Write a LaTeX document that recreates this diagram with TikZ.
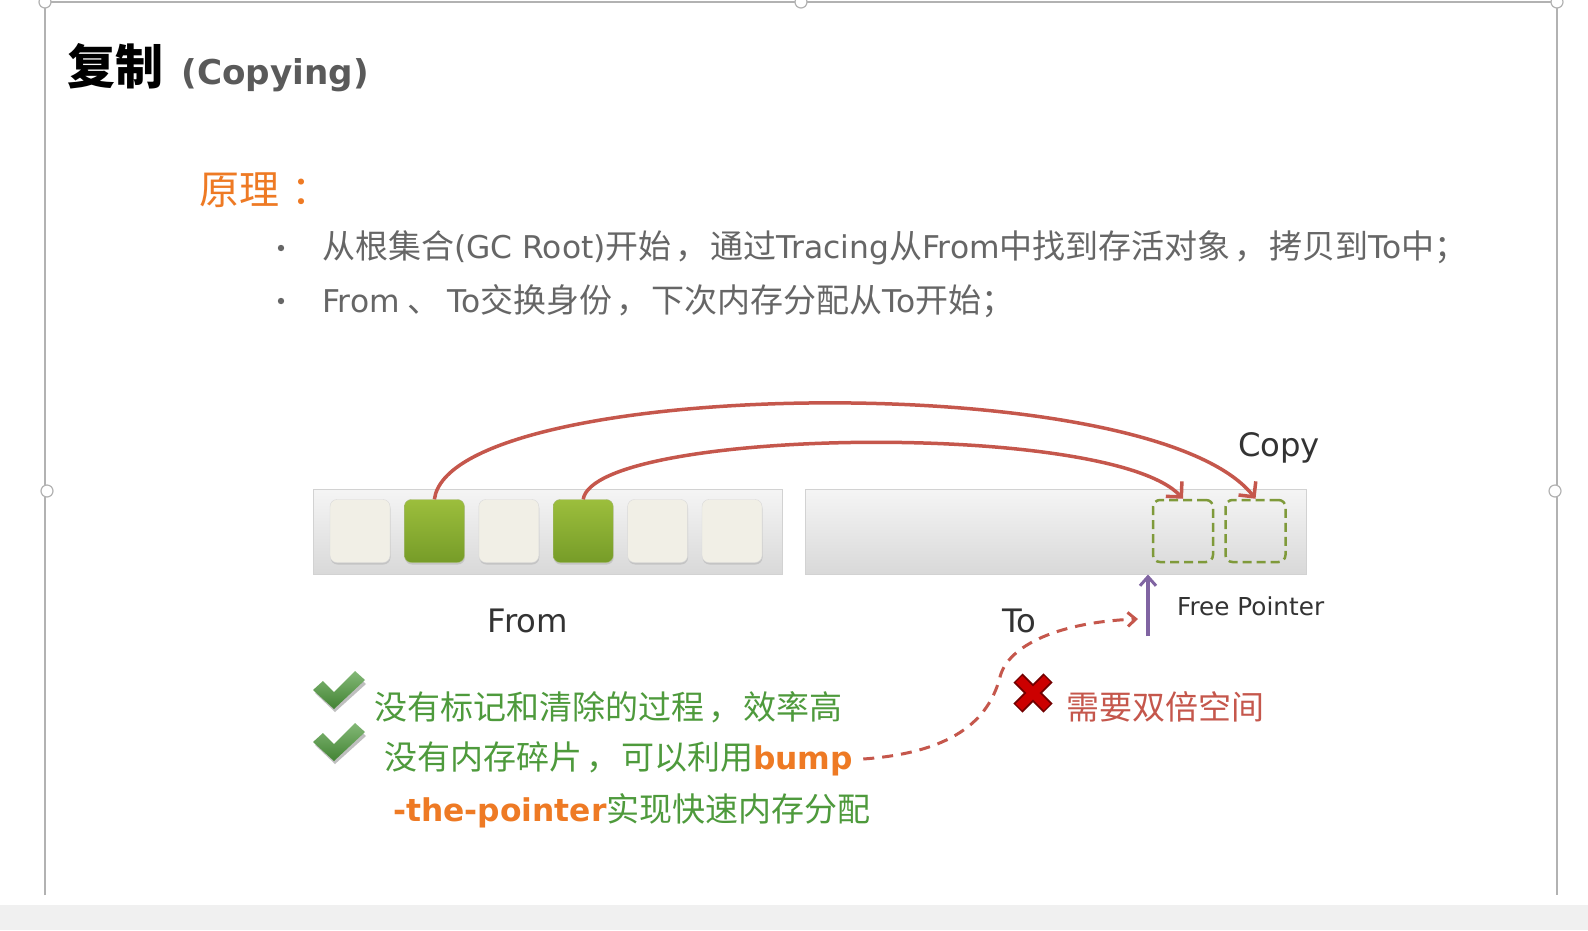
\documentclass[tikz,border=0pt]{standalone}
\usepackage{fontspec}
\setmainfont{Noto Sans CJK SC}
\newfontfamily\latinfont[Scale=0.95]{DejaVu Sans}
\usepackage{tikz}
\usetikzlibrary{positioning,arrows.meta,shadows}
\definecolor{textgray}{HTML}{666666}
\definecolor{titlegray}{HTML}{5A5A5A}
\definecolor{okgreen}{HTML}{4E9A3C}
\definecolor{hiorange}{HTML}{EE7A24}
\definecolor{gcred}{HTML}{C5574C}
\definecolor{fpurple}{HTML}{8064A2}
\definecolor{olive}{HTML}{7F9A3A}
\definecolor{cream}{HTML}{F1EFE6}
\newcommand{\lt}[1]{{\latinfont #1}}
\newcommand{\hl}[1]{{\latinfont\bfseries\color{hiorange}#1}}
\newcommand{\cm}{\hspace{4pt}，\hspace{2pt}}
\tikzset{
  bar/.style={draw=gray!35, line width=1pt, top color=gray!8, bottom color=gray!30, minimum height=85pt, inner sep=0pt},
  from cell/.style={draw=gray!30, fill=cream, rounded corners=7pt, minimum width=60pt, minimum height=63pt, inner sep=0pt,
    drop shadow={opacity=0.25, shadow xshift=0.5pt, shadow yshift=-2pt}},
  live cell/.style={from cell, draw=olive!70, top color={rgb,255:red,156;green,190;blue,60}, bottom color={rgb,255:red,118;green,156;blue,40}},
  copy cell/.style={draw=olive, dashed, dash pattern=on 9pt off 5pt, line width=2.5pt, rounded corners=7pt, minimum width=60pt, minimum height=62pt, inner sep=0pt},
  copy arrow/.style={draw=gcred, line width=3.5pt, -{Straight Barb[length=11pt,width=22pt,line width=3.5pt]}},
  bullet text/.style={anchor=west, inner sep=0pt, text=textgray, font=\fontsize{33}{38}\selectfont},
  good text/.style={anchor=west, inner sep=0pt, text=okgreen, font=\fontsize{33}{38}\selectfont},
  label text/.style={inner sep=0pt, text=black!80, font=\latinfont\fontsize{34}{38}\selectfont},
  tick/.pic={
    \fill[black!25] (-24,1) -- (-14,-8) -- (-4,3) -- (17,-18) -- (27,-8) -- (-4,20) -- cycle;
    \shade[top color=okgreen!70!white, bottom color=okgreen!85!black] (-26,-2) -- (-16,-11) -- (-5,0) -- (16,-21) -- (26,-12) -- (-5,17) -- cycle;
  },
  cross/.pic={
    \draw[line width=13pt, red!45!black] (-15,-15) -- (15,15) (-15,15) -- (15,-15);
    \draw[line width=9pt, red!80!black] (-14,-14) -- (14,14) (-14,14) -- (14,-14);
  },
}

\begin{document}
\begin{tikzpicture}[x=1pt, y=-1pt]
    \useasboundingbox (0,0) rectangle (1588,930);
    % Slide frame
    \fill[white] (0,0) rectangle (1588,905);
    \fill[gray!12] (0,905) rectangle (1588,930);
    \draw[gray!60, line width=1.5pt] (45,895) -- (45,2) -- (1557,2) -- (1557,895);
    \foreach \p in {(45,2),(801,2),(1557,2),(47,491),(1555,491)}
        \draw[gray!60, line width=1.2pt, fill=white] \p circle (6);

    % Titles
    \node[anchor=west, inner sep=0pt, font=\fontsize{48}{52}\selectfont\bfseries] (title) at (67,66) {复制};
    \node[right=18pt of title.base east, anchor=base west, inner sep=0pt, text=titlegray, font=\latinfont\fontsize{36}{38}\selectfont\bfseries] (title en) {(Copying)};
    \node[anchor=west, inner sep=0pt, text=hiorange, font=\fontsize{40}{44}\selectfont] (principle) at (199,190) {原理\hspace{12pt}：};

    % Bullets
    \node[bullet text] (b1) at (322,248) {从根集合\lt{(GC Root)}开始\cm 通过\lt{Tracing}从\lt{From}中找到存活对象\cm 拷贝到\lt{To}中；};
    \node[bullet text] (b2) at (322,301) {\lt{From} 、 \lt{To}交换身份\cm 下次内存分配从\lt{To}开始；};
    \fill[textgray] (281,248) circle (3.2);
    \fill[textgray] (281,301) circle (3.2);

    % From and To spaces
    \node[bar, minimum width=469pt] (from) at (547.5,531.5) {};
    \node[bar, minimum width=501pt] (to) at (1055.5,531.5) {};
    \foreach \i/\s in {1/from cell, 2/live cell, 3/from cell, 4/live cell, 5/from cell, 6/from cell}
        \node[\s] (f\i) at ({360+(\i-1)*74.4},531) {};
    \node[copy cell] (c1) at (1183,531) {};
    \node[copy cell] (c2) at (1255.5,531) {};

    % Copy arcs
    \draw[copy arrow] (f2.north) .. controls (450,378) and (1150,365) .. (c2.north);
    \draw[copy arrow] (f4.north) .. controls (595,428) and (1110,420) .. (c1.north);
    \node[label text] (copy) at (1279,448) {Copy};

    % Labels
    \node[label text] (from label) at (528,621) {From};
    \node[label text] (to label) at (1019,621) {To};
    \coordinate (fp tail) at (1148,636);
    \draw[fpurple, line width=3.5pt, -{Straight Barb[length=9pt,width=16pt,line width=3pt]}] (fp tail) -- (fp tail |- to.south);
    \node[anchor=west, inner sep=0pt, text=black!80, font=\latinfont\fontsize{26}{30}\selectfont] (fp label) at (1177,606) {Free Pointer};

    % Pros and cons
    \pic at (339,692) {tick};
    \pic at (339,744) {tick};
    \node[good text] (l1) at (374,707) {没有标记和清除的过程\cm 效率高};
    \node[good text] (l2) at (384,759) {没有内存碎片\cm 可以利用\hl{bump}};
    \node[good text] (l3) at (393,811) {\hl{-the-pointer}实现快速内存分配};
    \pic at (1033,693) {cross};
    \node[anchor=west, inner sep=0pt, text=gcred, font=\fontsize{33}{38}\selectfont] (cons) at (1066,707) {需要双倍空间};
    \coordinate (fp in) at (1138,619);
    \draw[gcred, line width=3pt, dash pattern=on 11pt off 8pt, -{Straight Barb[length=8pt,width=14pt,line width=3pt]}]
        ([xshift=10pt]l2.east) .. controls (960,752) and (990,715) .. (1000,677)
        .. controls (1008,645) and (1060,622) .. (fp in);
\end{tikzpicture}
\end{document}
